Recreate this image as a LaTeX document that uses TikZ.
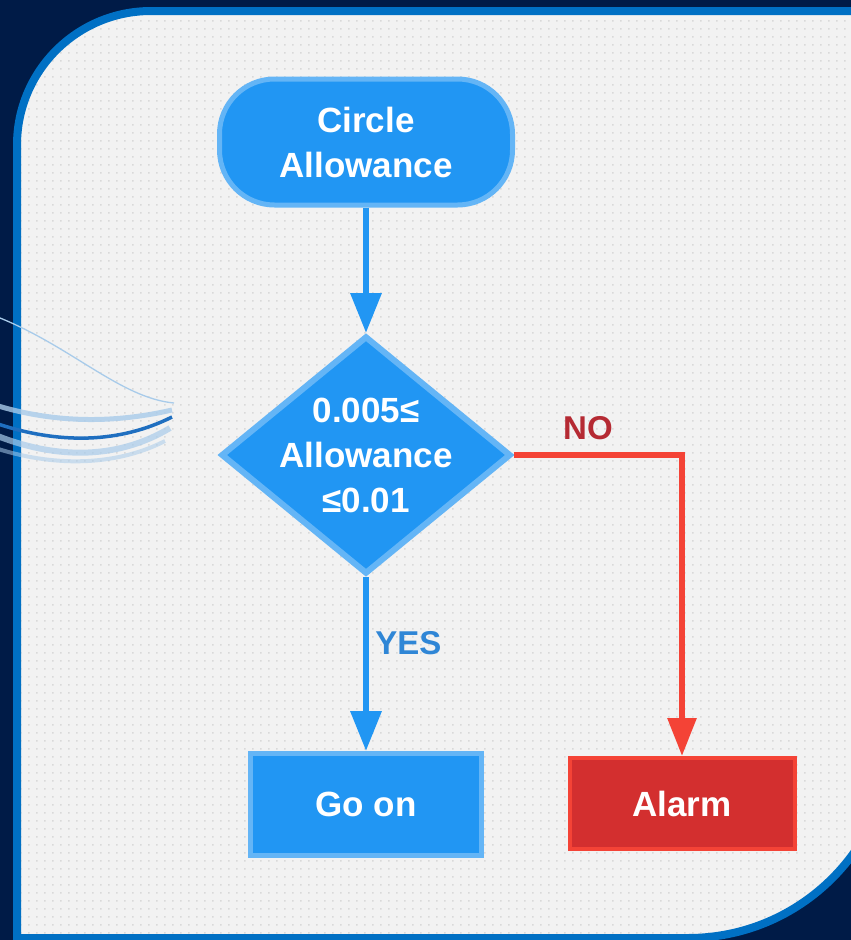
\documentclass[tikz,border=0pt]{standalone}
\usepackage{fontspec}
\setmainfont{Liberation Sans}
\usetikzlibrary{arrows.meta,shapes.geometric}
\definecolor{navy}{HTML}{001B47}
\definecolor{frame}{HTML}{0070C4}
\definecolor{paper}{HTML}{F2F2F2}
\definecolor{dotc}{HTML}{D9D9D9}
\definecolor{mblue}{HTML}{2196F3}
\definecolor{lblue}{HTML}{64B5F6}
\definecolor{mred}{HTML}{D32F2F}
\definecolor{lred}{HTML}{F44336}
\definecolor{yesc}{HTML}{2F86D6}
\definecolor{noc}{HTML}{B52A33}
\definecolor{swa}{HTML}{A8CBEA}
\definecolor{swb}{HTML}{1F6FC0}
\newcommand{\panelshape}{(17,938) -- (17,145) arc[start angle=180,end angle=270,radius=134] -- (892,11) -- (892,734) arc[start angle=0,end angle=90,radius=204] -- cycle}
\begin{document}
\begin{tikzpicture}[x=1pt,y=-1pt,
  txt/.style={text=white,font=\fontsize{35}{45}\selectfont\bfseries,align=center},
  term/.style={draw=lblue,fill=mblue,line width=5pt,rounded corners=55pt,minimum width=293pt,minimum height=126pt,inner sep=0pt},
  dec/.style={diamond,draw=lblue,fill=mblue,line width=6pt,minimum width=290pt,minimum height=238pt,inner sep=0pt},
  bluebox/.style={draw=lblue,fill=mblue,line width=5pt,minimum width=231pt,minimum height=102pt,inner sep=0pt},
  redbox/.style={draw=lred,fill=mred,line width=4pt,minimum width=225pt,minimum height=91pt,inner sep=0pt},
  bflow/.style={draw=mblue,line width=6.5pt,-{Triangle[length=40pt,width=30pt]}},
  rflow/.style={draw=lred,line width=6pt,-{Triangle[length=38pt,width=28pt]}},
  lab/.style={font=\fontsize{33}{40}\selectfont\bfseries,inner sep=0pt},
]
\path[use as bounding box] (0,0) rectangle (851,940);
\clip (0,0) rectangle (851,940);
\fill[navy] (0,0) rectangle (851,940);
% panel
\fill[paper] \panelshape;
\begin{scope}
  \clip \panelshape;
  \foreach \j in {0,...,117} {
    \fill[dotc] \foreach \i in {0,...,106} {(\i*8+4,\j*8+4) rectangle ++(1.6,1.6)};
  }
\end{scope}
\draw[frame,line width=8pt] \panelshape;
% swooshes
\draw[swa,line width=1.3pt] (-5,316) .. controls (70,345) and (120,398) .. (174,403);
\draw[swa,line width=5pt,opacity=.8] (-5,405) .. controls (60,425) and (120,422) .. (172,410);
\draw[swb,line width=3.5pt] (-5,423) .. controls (60,445) and (120,443) .. (172,417);
\draw[swa,line width=6pt,opacity=.7] (-5,435) .. controls (60,461) and (120,458) .. (170,428);
\draw[swa,line width=4pt,opacity=.55] (-5,448) .. controls (60,469) and (120,464) .. (165,441);
% nodes
\node[term,txt] (t) at (366,142) {Circle\\Allowance};
\node[dec] (d) at (366,455) {};
\node[txt] (dt) at (d.center) {0.005≤\\Allowance\\≤0.01};
\node[bluebox,txt] (go) at (366,804.5) {Go on};
\node[redbox,txt] (al) at (682,803.5) {Alarm};
% connectors
\draw[bflow] (t.south) -- (d.north);
\draw[bflow] (d.south) -- node[lab,text=yesc,anchor=west,pos=0.38,xshift=6pt] {YES} (go.north);
\draw[rflow] (d.east) -| node[lab,text=noc,anchor=south,pos=0.22,yshift=12pt] {NO} (al.north);
\end{tikzpicture}
\end{document}
